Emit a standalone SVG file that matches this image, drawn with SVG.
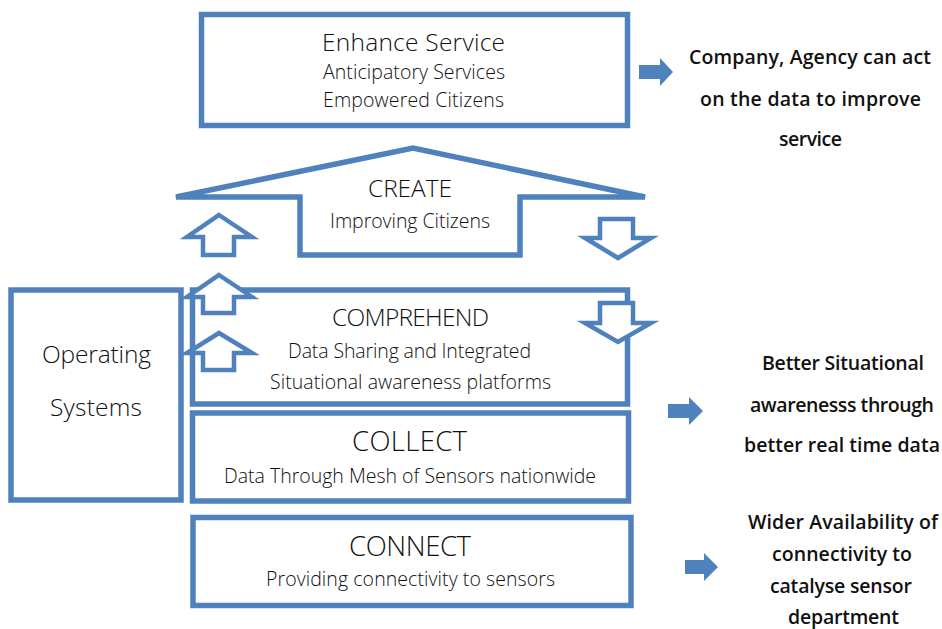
<svg xmlns="http://www.w3.org/2000/svg" width="942" height="629" viewBox="0 0 942 629">
  <style>
    .box { fill: #ffffff; stroke: #4F81BD; stroke-width: 5.5; }
    .hollow { fill: #ffffff; stroke: #4F81BD; stroke-width: 4.5; stroke-linejoin: miter; }
    .solid { fill: #4F81BD; stroke: none; }
    text { font-family: "Open Sans", "Noto Sans", "Liberation Sans", sans-serif; fill: #111111; text-anchor: middle; }
    .title { font-size: 24.5px; font-weight: 300; }
    .big { font-size: 27.5px; font-weight: 300; }
    .sub { font-size: 19.5px; font-weight: 300; }
    .note { font-size: 19.5px; font-weight: 600; }
  </style>

  <!-- top tier -->
  <g id="enhance">
    <rect class="box" x="201.5" y="14.5" width="426" height="111"/>
    <text class="title" x="413.5" y="51" textLength="183">Enhance Service</text>
    <text class="sub" x="414" y="79" textLength="182">Anticipatory Services</text>
    <text class="sub" x="413.5" y="107" textLength="181">Empowered Citizens</text>
  </g>

  <!-- house-shaped create block -->
  <g id="create">
    <polygon class="box" points="176,197 413,148 645,197 520,197 520,255 300,255 300,197"/>
    <text class="title" x="410" y="197" textLength="84">CREATE</text>
    <text class="sub" x="410" y="228" textLength="160">Improving Citizens</text>
  </g>

  <g id="operating">
    <rect class="box" x="11" y="290" width="170" height="210"/>
    <text class="title" x="96.5" y="363" textLength="109">Operating</text>
    <text class="title" x="96" y="416" textLength="92">Systems</text>
  </g>

  <g id="comprehend">
    <rect class="box" x="192.5" y="290" width="435" height="114"/>
    <text class="title" x="410.5" y="326" textLength="157">COMPREHEND</text>
    <text class="sub" x="409.5" y="358" textLength="243">Data Sharing and Integrated</text>
    <text class="sub" x="410.5" y="389" textLength="281">Situational awareness platforms</text>
  </g>

  <g id="collect">
    <rect class="box" x="192.5" y="413" width="436" height="88"/>
    <text class="big" x="409.5" y="451" textLength="115">COLLECT</text>
    <text class="sub" x="410" y="483" textLength="372">Data Through Mesh of Sensors nationwide</text>
  </g>

  <g id="connect">
    <rect class="box" x="193" y="517.5" width="438" height="88"/>
    <text class="big" x="410" y="556" textLength="122">CONNECT</text>
    <text class="sub" x="410.5" y="586" textLength="289">Providing connectivity to sensors</text>
  </g>

  <g id="outcome-service">
    <text class="note" x="810" y="64" textLength="242">Company, Agency can act</text>
    <text class="note" x="810.5" y="106" textLength="221">on the data to improve</text>
    <text class="note" x="810.5" y="146" textLength="63">service</text>
  </g>

  <g id="outcome-awareness">
    <text class="note" x="843" y="370" textLength="162">Better Situational</text>
    <text class="note" x="842" y="412" textLength="184">awarenesss through</text>
    <text class="note" x="842" y="452" textLength="196">better real time data</text>
  </g>

  <g id="outcome-connectivity">
    <text class="note" x="843" y="529" textLength="190">Wider Availability of</text>
    <text class="note" x="842" y="561" textLength="140">connectivity to</text>
    <text class="note" x="841" y="593" textLength="142">catalyse sensor</text>
    <text class="note" x="843.5" y="624" textLength="111">department</text>
  </g>

  <!-- flow arrows -->
  <g id="connectors">
    <polygon class="hollow" points="219,215 252,237 234,237 234,255 203,255 203,237 187,237"/>
    <polygon class="hollow" points="219,275 252,297 234,297 234,313 203,313 203,297 187,297"/>
    <polygon class="hollow" points="219,333 252,353 234,353 234,370 203,370 203,353 187,353"/>
    <polygon class="hollow" points="600,219 633,219 633,238 651,238 618,258 585,238 600,238"/>
    <polygon class="hollow" points="600,303 633,303 633,323 651,323 618,342 585,323 600,323"/>
    <polygon class="solid" points="639,65 660,65 660,58 673,72 660,86 660,79 639,79"/>
    <polygon class="solid" points="668,404 689,404 689,397 703,411 689,425 689,418 668,418"/>
    <polygon class="solid" points="685,560 704,560 704,553 718,567 704,581 704,574 685,574"/>
  </g>
</svg>
